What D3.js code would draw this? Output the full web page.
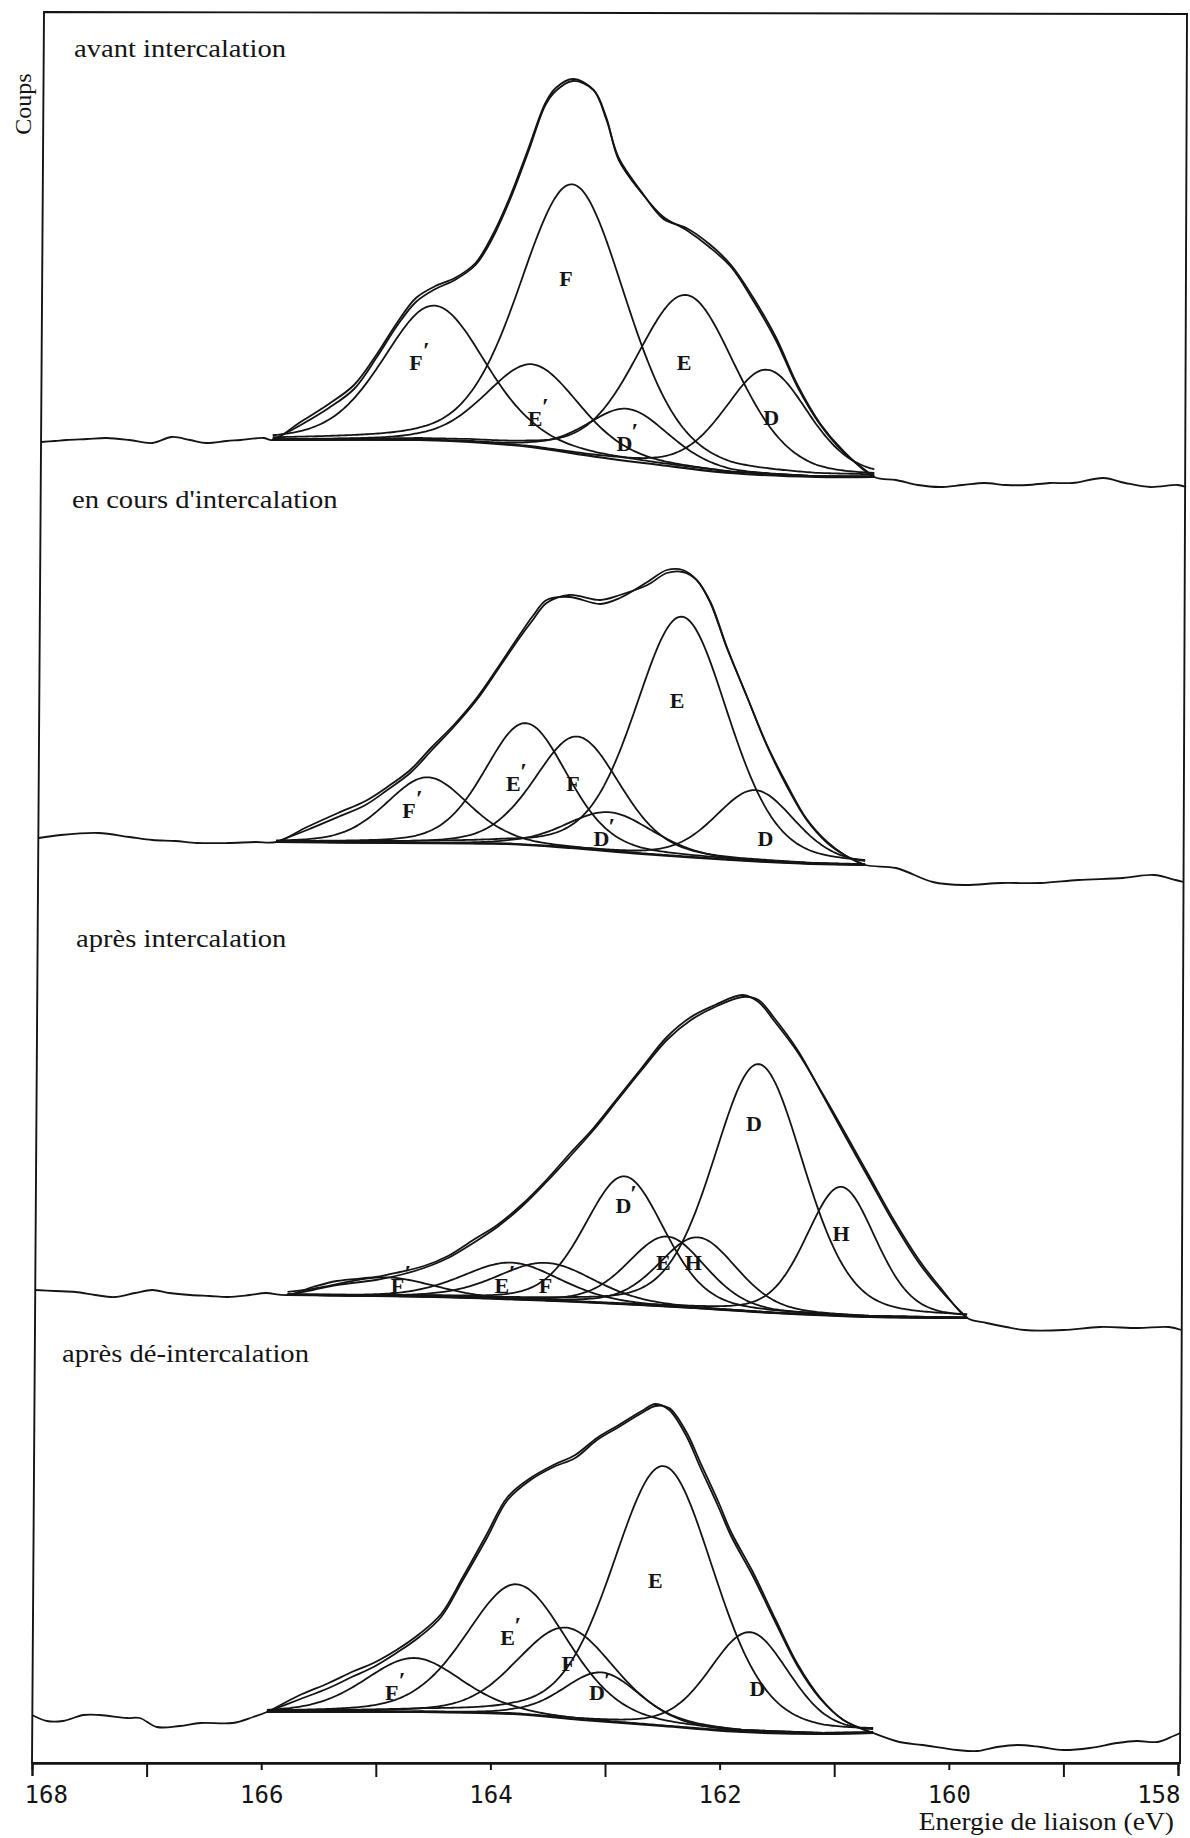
<!DOCTYPE html>
<html><head><meta charset="utf-8">
<script src="https://cdn.jsdelivr.net/npm/d3@7"></script>
<style>
body{margin:0;background:#fff;}
svg{display:block;background:#fff;}
</style></head><body>
<svg id="chart" width="1190" height="1838"></svg>
<script>
// ================= DATA =================
const xTicks = [168,167,166,165,164,163,162,161,160,159,158];
const xTickLabels = ["168","","166","","164","","162","","160","","158"];
const panelTitles = ["avant intercalation","en cours d'intercalation","après intercalation","après dé-intercalation"];
const yAxisTitle = "Coups";
const xAxisTitle = "Energie de liaison (eV)";
const glMix = 0.25; // Lorentzian fraction of the Gaussian-Lorentzian peak shape

// ---- panel 1 : avant intercalation ----
const p1Labels  = ["F'","E'","F","D'","E","D"];
const p1Centers = [164.49,163.63,163.28,162.80,162.29,161.59];
const p1Heights = [135,83,269,52,173,105];
const p1Widths  = [1.05,0.96,1.09,0.85,1.04,0.87];
const p1LabelE  = [164.65,163.61,163.34,162.83,162.31,161.55];
const p1LabelV  = [78,22,162,-3,78,23];
const p1BgE = [165.90,164.62,164.18,163.65,163.07,162.52,161.90,161.16,160.65];
const p1BgV = [0,0,-2,-7,-17,-25,-33,-37,-37];
const p1EnvE = [165.90,165.67,165.41,165.19,164.99,164.81,164.65,164.48,164.31,164.13,163.99,163.83,163.67,163.52,163.43,163.28,163.10,162.99,162.88,162.68,162.49,162.29,162.09,161.90,161.71,161.51,161.32,161.12,160.92,160.65];
const p1EnvV = [0,14,32,51,83,115,138,151,160,175,200,240,288,335,349,359,350,323,280,247,223,210,193,173,140,100,53,15,-12,-37];
const p1Res  = [0,3,4,4,3,3,4,3,2,2,3,3,3,2,3,2,0,-2,2,1,-2,2,3,2,3,3,2,1,1,0];
const p1LeftE  = [167.92,167.80,167.70,167.52,167.35,167.15,166.95,166.78,166.62,166.48,166.30,166.18,165.98];
const p1LeftV  = [-2,-1,0,1,2,0,-3,3,0,-3,-1,0,2];
const p1RightE = [160.46,160.27,160.08,159.88,159.69,159.50,159.31,159.12,158.92,158.65,158.46,158.24,158.00,157.93];
const p1RightV = [-40,-45,-47,-45,-43,-45,-45,-43,-43,-38,-43,-47,-45,-47];

// ---- panel 2 : en cours d'intercalation ----
const p2Labels  = ["F'","E'","F","D'","E","D"];
const p2Centers = [164.55,163.69,163.24,162.96,162.33,161.69];
const p2Heights = [66,122,112,39,240,71];
const p2Widths  = [0.85,0.85,0.88,0.90,0.96,0.82];
const p2LabelE  = [164.71,163.80,163.28,163.03,162.37,161.60];
const p2LabelV  = [32,59,59,4,142,4];
const p2BgE = [165.87,164.86,163.85,163.30,162.68,161.90,161.20,160.73];
const p2BgV = [0,-1,-2,-6,-12,-18,-22,-23];
const p2EnvE = [165.87,165.60,165.33,165.09,164.90,164.70,164.51,164.32,164.12,163.92,163.74,163.63,163.51,163.31,163.04,162.87,162.63,162.46,162.32,162.20,162.08,161.94,161.76,161.59,161.41,161.24,161.06,160.91,160.73];
const p2EnvV = [0,12,25,37,52,69,92,115,142,175,205,222,239,247,242,247,257,269,270,262,239,195,145,97,55,22,-1,-13,-23];
const p2Res  = [0,3,4,4,3,3,3,2,2,2,3,4,3,-2,-4,-3,3,3,2,0,1,1,0,1,2,1,1,0,0];
const p2LeftE  = [167.94,167.75,167.42,167.15,166.95,166.75,166.56,166.29,166.05];
const p2LeftV  = [4,7,9,5,2,1,-1,-1,0];
const p2RightE = [160.46,160.14,159.87,159.54,159.20,158.87,158.48,158.21,158.02,157.95];
const p2RightV = [-26,-40,-43,-41,-41,-38,-36,-33,-38,-40];

// ---- panel 3 : après intercalation ----
const p3Labels  = ["F'","E'","F","D'","E","H","D","H"];
const p3Centers = [164.92,163.82,163.52,162.83,162.46,162.19,161.66,160.94];
const p3Heights = [19,37,38,128,70,71,248,129];
const p3Widths  = [1.00,1.00,1.00,0.82,0.80,0.80,0.93,0.72];
const p3LabelE  = [164.81,163.90,163.52,162.84,162.49,162.23,161.70,160.94];
const p3LabelV  = [10,10,10,90,33,33,172,62];
const p3BgE = [165.77,164.49,163.23,162.38,161.53,160.69,159.84];
const p3BgV = [0,-2,-7,-12,-18,-22,-23];
const p3EnvE = [165.77,165.55,165.34,165.00,164.79,164.58,164.37,164.15,163.94,163.73,163.52,163.31,163.10,162.89,162.68,162.46,162.25,162.04,161.80,161.66,161.53,161.32,161.11,160.90,160.69,160.48,160.26,160.05,159.84];
const p3EnvV = [0,5,10,15,20,27,37,52,68,88,112,138,165,195,225,255,275,288,298,295,278,245,202,158,115,72,32,2,-23];
const p3Res  = [0,3,4,3,3,2,2,3,2,2,2,3,2,2,2,3,3,2,2,-2,-3,-2,1,3,3,3,3,2,0];
const p3LeftE  = [167.97,167.80,167.62,167.45,167.28,167.10,166.95,166.80,166.62,166.45,166.29,166.10,165.96];
const p3LeftV  = [5,4,3,0,-2,2,5,2,0,-1,-2,0,2];
const p3RightE = [159.67,159.50,159.34,159.00,158.68,158.35,158.08,157.97];
const p3RightV = [-28,-32,-35,-35,-32,-33,-32,-35];

// ---- panel 4 : après dé-intercalation ----
const p4Labels  = ["F'","E'","F","D'","E","D"];
const p4Centers = [164.67,163.77,163.34,163.03,162.49,161.74];
const p4Heights = [54,130,91,49,260,100];
const p4Widths  = [1.00,1.05,1.00,0.80,1.05,0.82];
const p4LabelE  = [164.86,163.85,163.32,163.07,162.56,161.67];
const p4LabelV  = [20,75,49,20,132,24];
const p4BgE = [165.95,164.60,163.80,163.20,162.50,161.80,161.10,160.66];
const p4BgV = [0,0,-2,-8,-14,-20,-22,-21];
const p4EnvE = [165.95,165.68,165.41,165.21,165.02,164.82,164.62,164.43,164.24,164.04,163.85,163.65,163.45,163.26,163.07,162.88,162.68,162.56,162.44,162.29,162.17,162.01,161.90,161.71,161.51,161.32,161.12,160.92,160.66];
const p4EnvV = [0,12,24,35,45,59,75,95,132,172,212,232,245,254,272,285,299,306,304,280,250,210,180,140,92,48,14,-8,-21];
const p4Res  = [0,4,5,5,4,3,3,3,3,4,3,2,2,3,2,2,2,2,-2,-4,-5,-5,-4,-4,-3,-2,-1,0,0];
const p4LeftE  = [168.00,167.87,167.73,167.55,167.41,167.17,167.06,166.91,166.71,166.53,166.25,166.07];
const p4LeftV  = [-3,-9,-9,-3,-3,-6,-6,-15,-14,-11,-11,-5];
const p4RightE = [160.43,160.23,159.93,159.75,159.58,159.40,159.20,159.00,158.77,158.53,158.36,158.18,158.04,157.98];
const p4RightV = [-30,-33,-38,-39,-35,-33,-35,-38,-36,-31,-29,-30,-24,-21];

// ================= DRAWING =================
const panels = [
  {title:panelTitles[0], labels:p1Labels, c:p1Centers, h:p1Heights, w:p1Widths, labE:p1LabelE, labV:p1LabelV, bgE:p1BgE, bgV:p1BgV, envE:p1EnvE, envV:p1EnvV, res:p1Res, lE:p1LeftE, lV:p1LeftV, rE:p1RightE, rV:p1RightV},
  {title:panelTitles[1], labels:p2Labels, c:p2Centers, h:p2Heights, w:p2Widths, labE:p2LabelE, labV:p2LabelV, bgE:p2BgE, bgV:p2BgV, envE:p2EnvE, envV:p2EnvV, res:p2Res, lE:p2LeftE, lV:p2LeftV, rE:p2RightE, rV:p2RightV},
  {title:panelTitles[2], labels:p3Labels, c:p3Centers, h:p3Heights, w:p3Widths, labE:p3LabelE, labV:p3LabelV, bgE:p3BgE, bgV:p3BgV, envE:p3EnvE, envV:p3EnvV, res:p3Res, lE:p3LeftE, lV:p3LeftV, rE:p3RightE, rV:p3RightV},
  {title:panelTitles[3], labels:p4Labels, c:p4Centers, h:p4Heights, w:p4Widths, labE:p4LabelE, labV:p4LabelV, bgE:p4BgE, bgV:p4BgV, envE:p4EnvE, envV:p4EnvV, res:p4Res, lE:p4LeftE, lV:p4LeftV, rE:p4RightE, rV:p4RightV}
];

const ink = "#141414";
const svg = d3.select("#chart");
const x = d3.scaleLinear().domain([168,158]).range([32,1178]);
const panelBase = [440, 842, 1295, 1712];
const titlePos = [[74,57],[72,508],[76,947],[62,1362]];
const serif = "'Liberation Serif','Times New Roman',serif";

function stretch(sel, k){
  sel.each(function(){
    const L = this.getComputedTextLength();
    d3.select(this).attr("textLength", L*k).attr("lengthAdjust","spacingAndGlyphs");
  });
}

// frame (the scanned frame is slightly sheared)
svg.append("path").attr("d","M44,12 L1187,14 L1180,1763 L32,1763 Z")
  .attr("fill","none").attr("stroke",ink).attr("stroke-width",1.9);

// bottom axis
const axis = d3.axisBottom(x).tickValues(xTicks).tickFormat((d,i)=>xTickLabels[i]).tickSizeOuter(0).tickSize(13);
const gA = svg.append("g").attr("transform","translate(0,1763)").call(axis)
  .attr("font-family","'DejaVu Sans Mono',monospace").attr("font-size",24);
gA.select(".domain").attr("stroke",ink).attr("stroke-width",2.4);
gA.selectAll(".tick line").attr("stroke",ink).attr("stroke-width",2)
  .attr("y2",(d,i)=> xTickLabels[i] ? 7 : 14);
gA.selectAll(".tick text").attr("fill",ink).attr("y",40).attr("dy",null)
  .attr("text-anchor",(d,i)=> i===0 ? "start" : (i===xTicks.length-1 ? "end" : "middle"))
  .attr("x",(d,i)=> i===0 ? -8 : (i===xTicks.length-1 ? 2 : 0));

// axis titles
const xt = svg.append("text").attr("x",1174).attr("y",1830).attr("text-anchor","end")
  .attr("font-family",serif).attr("font-size",25).attr("fill",ink).text(xAxisTitle);
stretch(xt,1.1);
svg.append("text").attr("transform","translate(31,104) rotate(-90)").attr("text-anchor","middle")
  .attr("font-family",serif).attr("font-size",24).attr("fill",ink).text(yAxisTitle);

function pv(e,c,h,w){
  const r = (e-c)/w;
  return h*((1-glMix)*Math.exp(-4*Math.LN2*r*r) + glMix/(1+4*r*r));
}

panels.forEach((p,k)=>{
  const base = panelBase[k];
  const y = d3.scaleLinear().domain([0,400]).range([base, base-400]);
  const g = svg.append("g");
  const bg = d3.scaleLinear().domain(p.bgE).range(p.bgV);
  const start = p.envE[0], end = p.envE[p.envE.length-1];
  const grid = d3.range(start, end, -0.02).concat([end]);
  const lin = d3.line().x(d=>x(d[0])).y(d=>y(d[1]));
  const smooth = d3.line().x(d=>x(d[0])).y(d=>y(d[1])).curve(d3.curveCatmullRom.alpha(0.5));

  // title
  const t = g.append("text").attr("x",titlePos[k][0]).attr("y",titlePos[k][1])
    .attr("font-family",serif).attr("font-size",26).attr("fill",ink).text(p.title);
  stretch(t,1.1);

  // background
  g.append("path").datum(p.bgE.map((e,i)=>[e,p.bgV[i]]))
    .attr("d", smooth).attr("fill","none").attr("stroke",ink).attr("stroke-width",2.2);

  // components
  p.c.forEach((c,i)=>{
    const pts = grid.map(e=>[e, bg(e)+pv(e,c,p.h[i],p.w[i])]);
    g.append("path").datum(pts).attr("d",lin).attr("fill","none")
      .attr("stroke",ink).attr("stroke-width",1.8);
  });

  // fitted envelope
  g.append("path").datum(p.envE.map((e,i)=>[e,p.envV[i]]))
    .attr("d",smooth).attr("fill","none").attr("stroke",ink).attr("stroke-width",1.8);

  // measured spectrum
  const data = p.lE.map((e,i)=>[e,p.lV[i]])
    .concat(p.envE.map((e,i)=>[e,p.envV[i]+p.res[i]]))
    .concat(p.rE.map((e,i)=>[e,p.rV[i]]));
  g.append("path").datum(data).attr("d",smooth).attr("fill","none")
    .attr("stroke",ink).attr("stroke-width",1.8);

  // peak labels
  p.labels.forEach((lab,i)=>{
    const lx = x(p.labE[i]), ly = y(p.labV[i]);
    g.append("text").attr("x",lx).attr("y",ly).attr("dy","0.36em").attr("text-anchor","middle")
      .attr("font-family",serif).attr("font-weight","bold").attr("font-size",22).attr("fill",ink)
      .text(lab.charAt(0));
    if (lab.length>1){
      g.append("text").attr("x",lx+7).attr("y",ly-4).attr("text-anchor","start")
        .attr("font-family",serif).attr("font-weight","bold").attr("font-size",24).attr("fill",ink)
        .text("\u2032");
    }
  });
});
</script>
</body></html>
